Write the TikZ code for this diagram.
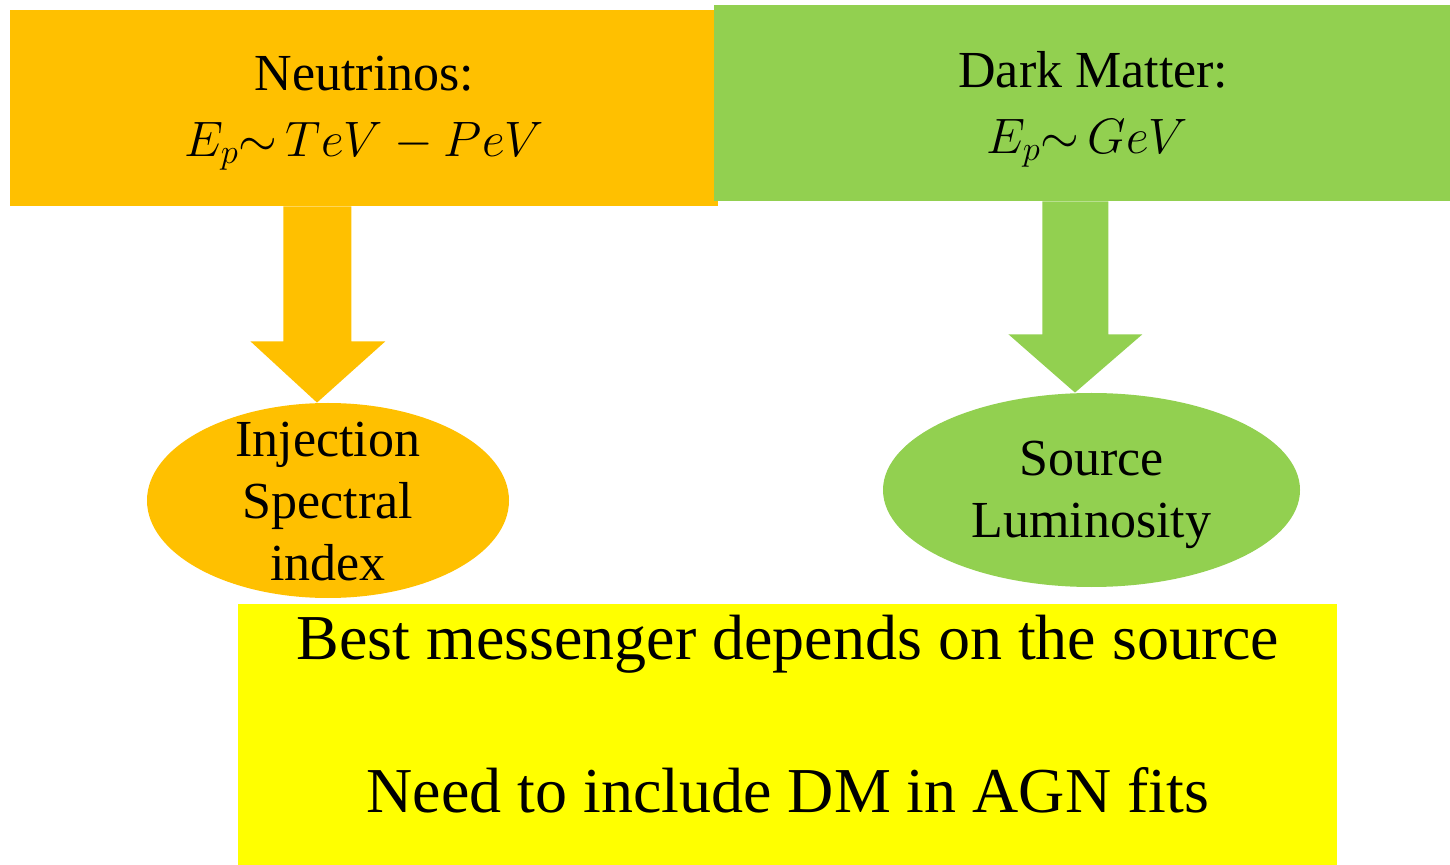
\documentclass[tikz,border=0pt]{standalone}
\usepackage{fontspec}
\setmainfont{Liberation Serif}
\usetikzlibrary{shapes.geometric,calc}
\definecolor{orng}{HTML}{FFC000}
\definecolor{grn}{HTML}{92D050}
\definecolor{ylw}{HTML}{FFFF00}
\tikzset{
  boxnode/.style={rectangle, inner sep=0pt, anchor=north west},
  ellnode/.style={ellipse, inner sep=0pt},
  midtext/.style={inner sep=0pt, align=center, font=\fontsize{26}{31}\selectfont},
  bigtext/.style={inner sep=0pt, align=center, font=\fontsize{32}{38.25}\selectfont}
}
\begin{document}
\begin{tikzpicture}[x=0.5pt,y=-0.5pt]
\useasboundingbox (0,0) rectangle (1450,865);
% top boxes
\node[boxnode, fill=orng, minimum width=354pt, minimum height=97.75pt] (neu) at (10,10) {};
\node[midtext] (neutext) at ($(neu.center)+(0,5)$)
  {Neutrinos:\\[2pt] $E_p{\sim}\,TeV - PeV$};
\node[boxnode, fill=grn, minimum width=368pt, minimum height=97.75pt] (dm) at (714,5) {};
\node[midtext] (dmtext) at ($(dm.center)+(5,6)$)
  {\hspace*{6pt}Dark Matter:\\[2pt] $E_p{\sim}\,GeV$};
% ellipses
\node[ellnode, fill=orng, minimum width=181pt, minimum height=97.5pt] (inj) at (328,500.5) {};
\node[midtext] (injtext) at ($(inj.center)+(0,1)$) {Injection\\Spectral\\index};
\node[ellnode, fill=grn, minimum width=208.5pt, minimum height=97pt] (lum) at (1091.5,490) {};
\node[midtext] (lumtext) at ($(lum.center)+(0,5)$) {Source\\Luminosity};
% block arrows
\fill[orng] ($(neu.south)+(-81,0)$) -- ($(neu.south)+(-13,0)$) -- ($(neu.south)+(-13,135)$)
  -- ($(neu.south)+(21,135)$) -- ($(inj.north)+(-11,0)$) -- ($(neu.south)+(-114,135)$)
  -- ($(neu.south)+(-81,135)$) -- cycle;
\fill[grn] ($(dm.south)+(-40,0)$) -- ($(dm.south)+(26,0)$) -- ($(dm.south)+(26,133)$)
  -- ($(dm.south)+(60,133)$) -- ($(lum.north)+(-16.5,0)$) -- ($(dm.south)+(-74,133)$)
  -- ($(dm.south)+(-40,133)$) -- cycle;
% bottom box
\node[boxnode, fill=ylw, minimum width=549.5pt, minimum height=130.5pt] (conc) at (238,604) {};
\node[bigtext] (conctext) at ($(conc.center)+(0,-21)$)
  {Best messenger depends on the source\\[38.25pt] Need to include DM in AGN fits};
\end{tikzpicture}
\end{document}
